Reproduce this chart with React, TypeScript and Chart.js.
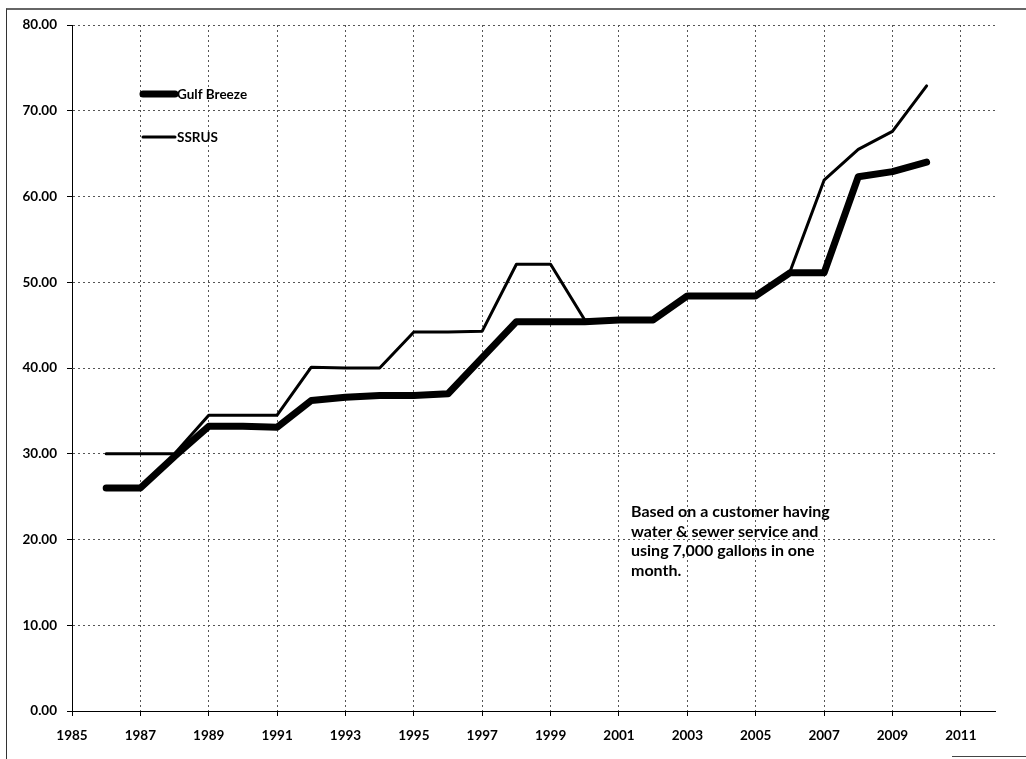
import React, { useEffect, useRef } from "react";
import { Chart, registerables } from "chart.js";

Chart.register(...registerables);

// Monthly water & sewer bill, 7,000 gallons
const years = [
  1986, 1987, 1988, 1989, 1990, 1991, 1992, 1993, 1994, 1995, 1996, 1997, 1998,
  1999, 2000, 2001, 2002, 2003, 2004, 2005, 2006, 2007, 2008, 2009, 2010,
];
const gulfBreeze = [
  26.0, 26.0, 29.7, 33.2, 33.2, 33.1, 36.2, 36.6, 36.8, 36.8, 37.0, 41.2, 45.4,
  45.4, 45.4, 45.6, 45.6, 48.4, 48.4, 48.4, 51.1, 51.1, 62.3, 62.9, 64.0,
];
const ssrus = [
  30.0, 30.0, 30.0, 34.5, 34.5, 34.5, 40.1, 40.0, 40.0, 44.2, 44.2, 44.3, 52.1,
  52.1, 45.6, 45.6, 45.6, 48.4, 48.4, 48.4, 51.2, 61.9, 65.5, 67.6, 72.9,
];
const xTickYears = [
  1985, 1987, 1989, 1991, 1993, 1995, 1997, 1999, 2001, 2003, 2005, 2007, 2009,
  2011,
];
const seriesNames = ["Gulf Breeze", "SSRUS"];
const noteLines = [
  "Based on a customer having",
  "water & sewer service and",
  "using 7,000 gallons in one",
  "month.",
];

const FONT = "Lato, 'Open Sans', sans-serif";

// Legend stacked inside the plot, near the upper left
const insideLegend = {
  id: "insideLegend",
  afterDatasetsDraw(chart: any) {
    const { ctx } = chart;
    const x0 = 143;
    const x1 = 175;
    const rows = [94, 137];
    ctx.save();
    chart.data.datasets.forEach((ds: any, i: number) => {
      const y = rows[i];
      ctx.beginPath();
      ctx.lineCap = "round";
      ctx.lineWidth = ds.borderWidth;
      ctx.strokeStyle = ds.borderColor;
      ctx.moveTo(x0, y);
      ctx.lineTo(x1, y);
      ctx.stroke();
      ctx.fillStyle = "#000";
      ctx.font = `bold 13.5px ${FONT}`;
      ctx.textBaseline = "middle";
      ctx.textAlign = "left";
      ctx.fillText(ds.label, x1 + 2, y + 1);
    });
    ctx.restore();
  },
};

// Explanatory note in the lower right part of the plot
const noteText = {
  id: "noteText",
  afterDraw(chart: any) {
    const { ctx } = chart;
    ctx.save();
    ctx.fillStyle = "#000";
    ctx.font = `bold 16px ${FONT}`;
    ctx.textBaseline = "middle";
    ctx.textAlign = "left";
    noteLines.forEach((line, i) => {
      ctx.fillText(line, 631, 512 + i * 19.5);
    });
    ctx.restore();
  },
};

export default function App() {
  const canvasRef = useRef<HTMLCanvasElement | null>(null);

  useEffect(() => {
    if (!canvasRef.current) return;
    const chart = new Chart(canvasRef.current, {
      type: "line",
      data: {
        datasets: [
          {
            label: seriesNames[0],
            data: years.map((yr, i) => ({ x: yr, y: gulfBreeze[i] })),
            borderColor: "#000",
            borderWidth: 7,
            borderCapStyle: "round",
            borderJoinStyle: "round",
            pointRadius: 0,
            tension: 0,
          },
          {
            label: seriesNames[1],
            data: years.map((yr, i) => ({ x: yr, y: ssrus[i] })),
            borderColor: "#000",
            borderWidth: 3,
            borderCapStyle: "round",
            borderJoinStyle: "round",
            pointRadius: 0,
            tension: 0,
          },
        ],
      },
      options: {
        animation: false,
        responsive: false,
        devicePixelRatio: 1,
        layout: { padding: { left: 0, top: 25, right: 31, bottom: 0 } },
        plugins: {
          legend: { display: false },
          tooltip: { enabled: false },
        },
        scales: {
          x: {
            type: "linear",
            min: 1985,
            max: 2012,
            afterFit(scale: any) {
              scale.height = 48;
            },
            afterBuildTicks(scale: any) {
              scale.ticks = xTickYears.map((v) => ({ value: v }));
            },
            ticks: {
              color: "#000",
              font: { family: FONT, size: 13.5, weight: "bold" },
              padding: 12,
              maxRotation: 0,
              autoSkip: false,
              callback: (v: any) => String(v),
            },
            grid: {
              color: "#555",
              lineWidth: 1,
              tickLength: 5,
              tickColor: "#000",
              tickBorderDash: [],
            },
            border: { color: "#000", width: 1, dash: [2, 3] },
          },
          y: {
            min: 0,
            max: 80,
            afterFit(scale: any) {
              scale.width = 72;
            },
            ticks: {
              stepSize: 10,
              color: "#000",
              font: { family: FONT, size: 13.5, weight: "bold" },
              padding: 10,
              callback: (v: any) => Number(v).toFixed(2),
            },
            grid: {
              color: "#555",
              lineWidth: 1,
              tickLength: 5,
              tickColor: "#000",
              tickBorderDash: [],
            },
            border: { color: "#000", width: 1, dash: [2, 3] },
          },
        },
      },
      plugins: [insideLegend, noteText],
    } as any);
    return () => chart.destroy();
  }, []);

  return (
    <div
      style={{
        position: "fixed",
        left: 0,
        top: 0,
        width: 1026,
        height: 759,
        background: "#fff",
        overflow: "hidden",
      }}
    >
      <div
        style={{
          position: "absolute",
          left: 6,
          top: 8,
          width: 1020,
          height: 751,
          borderTop: "2px solid #666",
          borderLeft: "1px solid #333",
        }}
      />
      <div
        style={{
          position: "absolute",
          left: 952,
          top: 756,
          width: 74,
          height: 0,
          borderTop: "1px solid #444",
        }}
      />
      <canvas
        ref={canvasRef}
        width={1026}
        height={759}
        style={{ position: "absolute", left: 0, top: 0 }}
      />
    </div>
  );
}
